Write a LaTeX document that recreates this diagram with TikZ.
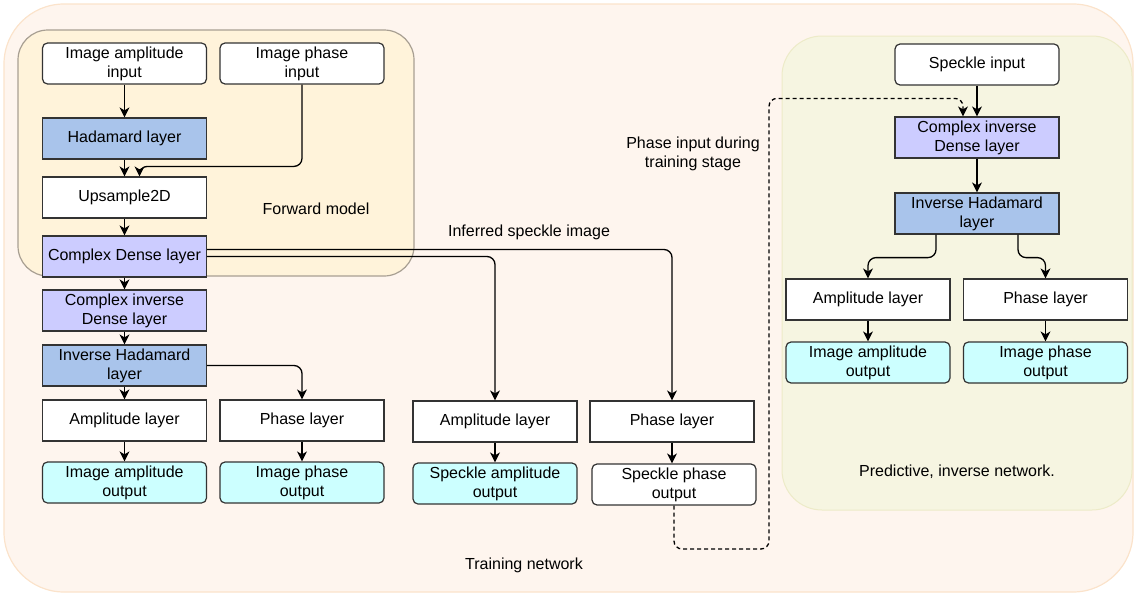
\documentclass[tikz,border=0pt]{standalone}
\usepackage{fontspec}
\setmainfont{Liberation Sans}
\usetikzlibrary{arrows.meta,positioning}
\definecolor{trainfill}{HTML}{FEF5EE}
\definecolor{traindraw}{HTML}{FBE3CB}
\definecolor{fwdfill}{HTML}{FFF3DA}
\definecolor{fwddraw}{HTML}{A89F92}
\definecolor{invfill}{HTML}{F6F5E1}
\definecolor{invdraw}{HTML}{EDEBC8}
\definecolor{hadblue}{HTML}{A9C4EB}
\definecolor{denselilac}{HTML}{CCCCFF}
\definecolor{outcyan}{HTML}{CCFFFF}

\begin{document}
\begin{tikzpicture}[x=1pt,y=-1pt,
    txt/.style={font=\fontsize{16}{19}\selectfont,align=center},
    layer/.style={txt,draw=black!80,line width=1.2pt,minimum width=164pt,minimum height=41pt,inner sep=0pt},
    iobox/.style={layer,rounded corners=5pt},
    link/.style={-{Stealth[length=10pt,width=10pt,inset=3pt]},line width=1.3pt,rounded corners=8pt}]
    \useasboundingbox (0,0) rectangle (1136,597);
    % groups
    \draw[fill=trainfill,draw=traindraw,line width=1.2pt,rounded corners=60pt] (4,4) rectangle (1133,592);
    \draw[fill=fwdfill,draw=fwddraw,line width=1.2pt,rounded corners=30pt] (18,30) rectangle (414,276);
    \draw[fill=invfill,draw=invdraw,line width=1pt,rounded corners=40pt] (782,36) rectangle (1132,510);
    % training network, left column
    \node[iobox,fill=white] (ampin) at (124.5,63.5) {Image amplitude\\input};
    \node[iobox,fill=white] (phin) at (302,63.5) {Image phase\\input};
    \node[layer,fill=hadblue] (had) at (124.5,138.5) {Hadamard layer};
    \node[layer,fill=white] (ups) at (124.5,197.5) {Upsample2D};
    \node[layer,fill=denselilac] (cdl) at (124.5,256.5) {Complex Dense layer};
    \node[layer,fill=denselilac] (cidl) at (124.5,310.5) {Complex inverse\\Dense layer};
    \node[layer,fill=hadblue] (ihad) at (124.5,365.5) {Inverse Hadamard\\layer};
    \node[layer,fill=white] (amp) at (124.5,420.5) {Amplitude layer};
    \node[layer,fill=white] (pha) at (302,420.5) {Phase layer};
    \node[iobox,fill=outcyan] (ampout) at (124.5,482.5) {Image amplitude\\output};
    \node[iobox,fill=outcyan] (phaout) at (302,482.5) {Image phase\\output};
    % training network, speckle branch
    \node[layer,fill=white] (spamp) at (495,421.5) {Amplitude layer};
    \node[layer,fill=white] (sppha) at (672,421.5) {Phase layer};
    \node[iobox,fill=outcyan] (spampout) at (495,483.5) {Speckle amplitude\\output};
    \node[iobox,fill=white] (sppout) at (674,484.5) {Speckle phase\\output};
    % inverse network
    \node[iobox,fill=white] (spin) at (977,64.5) {Speckle input};
    \node[layer,fill=denselilac] (icidl) at (977,137.5) {Complex inverse\\Dense layer};
    \node[layer,fill=hadblue] (iihad) at (977,213.5) {Inverse Hadamard\\layer};
    \node[layer,fill=white] (iamp) at (868,299.5) {Amplitude layer};
    \node[layer,fill=white] (ipha) at (1045.5,299.5) {Phase layer};
    \node[iobox,fill=outcyan] (iampout) at (868,362.5) {Image amplitude\\output};
    \node[iobox,fill=outcyan] (iphaout) at (1045.5,362.5) {Image phase\\output};
    % labels
    \node[txt] (fwdlbl) at (316,209) {Forward model};
    \node[txt] (inflbl) at (529,232) {Inferred speckle image};
    \node[txt] (phlbl) at (693,154) {Phase input during\\training stage};
    \node[txt] (trnlbl) at (524,565) {Training network};
    \node[txt] (invlbl) at (957,472) {Predictive, inverse network.};
    % connectors
    \draw[link] (ampin) -- (had);
    \draw[link] (had) -- (ups);
    \draw[link] (phin.south) |- ([xshift=15pt,yshift=10pt]ups.north) -- ([xshift=15pt]ups.north);
    \draw[link] (ups) -- (cdl);
    \draw[link] (cdl) -- (cidl);
    \draw[link] (cidl) -- (ihad);
    \draw[link] (ihad) -- (amp);
    \draw[link] (ihad.east) -| (pha.north);
    \draw[link] (amp) -- (ampout);
    \draw[link] (pha) -- (phaout);
    \draw[link] ([yshift=7pt]cdl.east) -| (sppha.north);
    \draw[link] (cdl.east) -| (spamp.north);
    \draw[link] (spamp) -- (spampout);
    \draw[link] (sppha.south) -- (sppha.south |- sppout.north);
    \coordinate (dashturn) at (769,549);
    \draw[link,dash pattern=on 4pt off 3pt] (sppout.south) |- (dashturn) |- ([xshift=-14pt,yshift=18pt]icidl.north) -- ([xshift=-14pt]icidl.north);
    \draw[link] (spin) -- (icidl);
    \draw[link] (icidl) -- (iihad);
    \draw[link] ([xshift=-41pt]iihad.south) -- ++(0,23) -| (iamp.north);
    \draw[link] ([xshift=41pt]iihad.south) -- ++(0,23) -| (ipha.north);
    \draw[link] (iamp) -- (iampout);
    \draw[link] (ipha) -- (iphaout);
\end{tikzpicture}
\end{document}
